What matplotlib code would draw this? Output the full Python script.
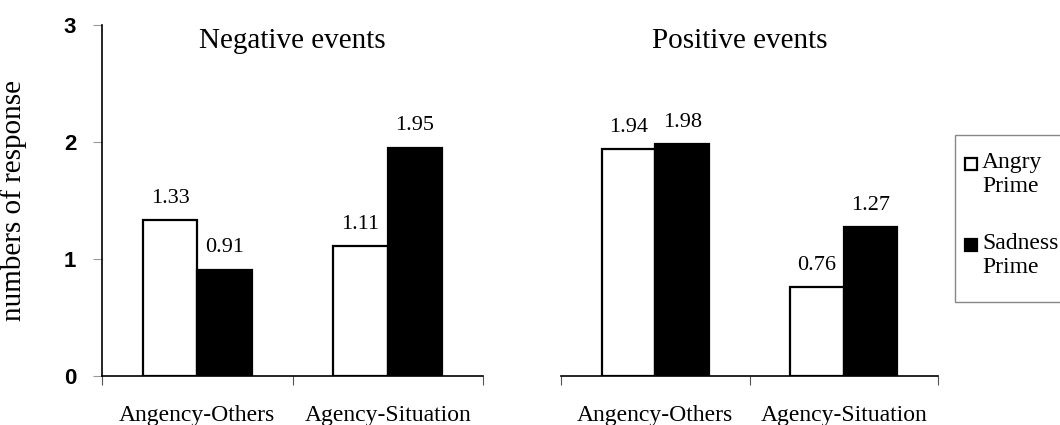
import matplotlib.pyplot as plt
from matplotlib.patches import Rectangle
import numpy as np

categories = ['Angency-Others', 'Agency-Situation']
panels = ['Negative events', 'Positive events']
angry_prime = [[1.33, 1.11], [1.94, 0.76]]
sadness_prime = [[0.91, 1.95], [1.98, 1.27]]
series_names = ['Angry\nPrime', 'Sadness\nPrime']
series_colors = ['white', 'black']

serif = ['Liberation Serif', 'DejaVu Serif']
W, H = 1060, 425


def fx(px):
    return px / W


def fy(py):
    return 1 - py / H


fig = plt.figure(figsize=(W / 100, H / 100), dpi=100)
ax_boxes = [(102, 483), (561, 938)]
title_x = [0.5, 0.475]
y0_px, y3_px = 376, 25

x = np.arange(len(categories))
bw = 0.285

for i, (left, right) in enumerate(ax_boxes):
    ax = fig.add_axes([fx(left), fy(y0_px), (right - left) / W, (y0_px - y3_px) / H])
    b1 = ax.bar(x - bw / 2, angry_prime[i], bw, color=series_colors[0], edgecolor='black', linewidth=1.6)
    b2 = ax.bar(x + bw / 2, sadness_prime[i], bw, color=series_colors[1], edgecolor='black', linewidth=1.6)
    for bars, vals in ((b1, angry_prime[i]), (b2, sadness_prime[i])):
        for rect, v in zip(bars, vals):
            ax.annotate(f'{v:.2f}', (rect.get_x() + rect.get_width() / 2, v),
                        xytext=(0, 12.5), textcoords='offset points',
                        ha='center', va='baseline', fontsize=16, family=serif)
    ax.set_xlim(-0.5, 1.5)
    ax.set_ylim(0, 3)
    ax.set_xticks([-0.5, 0.5, 1.5])
    ax.set_xticklabels([])
    ax.set_xticks(x, minor=True)
    ax.set_xticklabels(categories, minor=True, fontsize=17, family=serif)
    ax.tick_params(axis='x', which='minor', length=0, pad=21)
    ax.tick_params(axis='x', which='major', length=6.5, direction='out', color='#555555')
    ax.spines['top'].set_visible(False)
    ax.spines['right'].set_visible(False)
    ax.spines['bottom'].set_linewidth(1.2)
    ax.text(title_x[i], (y0_px - 48) / (y0_px - y3_px), panels[i], transform=ax.transAxes,
            ha='center', va='baseline', fontsize=21, family=serif)
    if i == 0:
        ax.set_yticks([0, 1, 2, 3])
        ax.set_yticklabels(['0', '1', '2', '3'], fontsize=16, fontweight='bold', family='Liberation Sans')
        ax.tick_params(axis='y', length=6.5, color='#999999', pad=12)
        ax.spines['left'].set_linewidth(1.2)
        ax.set_ylabel('numbers of response', fontsize=21, family=serif)
        ax.yaxis.set_label_coords(fx(27 - left) / ((right - left) / W), 0.5)
    else:
        ax.spines['left'].set_visible(False)
        ax.set_yticks([])

# legend box (right side runs off the figure, as in the original)
fig.add_artist(Rectangle((fx(955), fy(302)), fx(1070 - 955), (302 - 135) / H,
                         transform=fig.transFigure, facecolor='white',
                         edgecolor='#888888', linewidth=1.0))
for name, color, top in zip(series_names, series_colors, [158, 239]):
    fig.add_artist(Rectangle((fx(965), fy(top + 12)), 12 / W, 12 / H, transform=fig.transFigure,
                             facecolor=color, edgecolor='black', linewidth=1.6))
    fig.text(fx(982), fy(top - 6), name, ha='left', va='top', fontsize=17,
             family=serif, linespacing=1.18)

fig.savefig('out.png', dpi=100)
